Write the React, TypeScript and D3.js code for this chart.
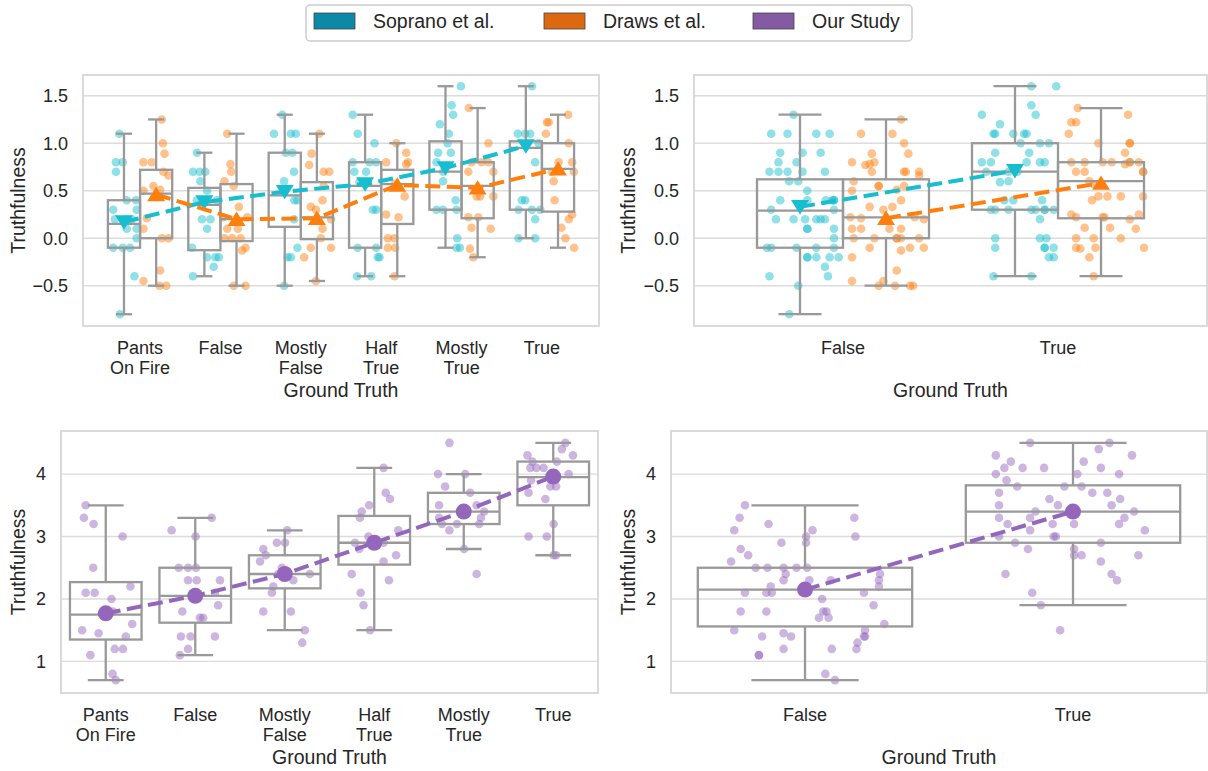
import * as d3 from 'd3';

const FINE_CATS = [['Pants', 'On Fire'], ['False'], ['Mostly', 'False'], ['Half', 'True'], ['Mostly', 'True'], ['True']];
const BINARY_CATS = [['False'], ['True']];
const TOP_TICKS = [-0.5, 0, 0.5, 1.0, 1.5];
const BOTTOM_TICKS = [1, 2, 3, 4];
const LEGEND = ['Soprano et al.', 'Draws et al.', 'Our Study'];

// ratings per category: [value, jitter] (jitter = share of half box width)
const sopranoPts = [
  [[1.1, -0.29], [0.8, -0.5], [0.8, -0.08], [0.7, -0.5], [0.3, -0.67], [0.4, 0.17], [0.4, 0.75], [0.2, 0.12], [0.2, 0.48], [0.1, 0.17], [0.1, 0.79], [0.3, 0.79], [-0.1, -0.67], [-0.1, -0.08], [-0.1, 0.38], [0.0, 0.79], [-0.4, 0.65], [-0.8, -0.25], [0.2, -0.56]],
  [[0.9, -0.46], [0.7, -0.71], [0.7, -0.29], [0.7, 0.06], [0.6, -0.25], [0.5, 0.17], [0.4, -0.46], [0.2, -0.15], [0.2, 0.38], [0.1, 0.17], [-0.1, -0.77], [-0.2, 0.17], [-0.2, 0.69], [-0.2, 0.9], [-0.3, 0.58], [-0.4, -0.71], [0.4, 0.79]],
  [[1.3, -0.15], [1.1, -0.67], [1.1, 0.38], [1.1, 0.69], [0.9, 0.06], [0.9, 0.48], [0.7, 0.58], [0.6, -0.04], [0.4, 0.79], [0.2, 0.58], [-0.2, 0.17], [-0.1, 0.79], [-0.5, -0.04], [0.4, 0.6], [-0.2, 0.38]],
  [[1.3, -0.77], [1.1, -0.46], [1.0, 0.58], [0.8, -0.77], [0.8, 0.27], [0.8, 0.69], [0.7, -0.67], [0.7, 0.06], [0.59, -0.35], [0.3, 0.69], [0.3, 0.48], [-0.1, -0.46], [-0.1, 0.69], [-0.2, 0.79], [-0.2, 0.9], [-0.4, -0.5], [-0.4, 0.38]],
  [[1.6, 0.96], [1.4, 0.38], [1.3, 0.48], [1.2, -0.35], [1.1, 0.21], [1.0, 0.13], [0.9, -0.46], [0.9, 0.33], [0.8, -0.56], [0.7, -0.15], [0.6, -0.15], [0.4, 0.63], [0.3, -0.56], [0.3, 0.69], [0.3, -0.15], [0.0, 0.73], [-0.1, 0.69], [-0.1, 0.9]],
  [[1.6, 0.38], [1.1, -0.5], [1.1, -0.04], [1.1, 0.27], [1.0, 0.79], [0.8, 0.58], [0.4, -0.25], [0.4, -0.04], [0.3, -0.46], [0.3, 0.38], [0.3, 0.9], [0.2, 0.58], [0.0, -0.46], [0.0, 0.58]],
];
const drawsPts = [
  [[1.25, 0.35], [1.0, 0.42], [0.89, 0.52], [0.8, -0.79], [0.8, -0.27], [0.7, 0.46], [0.66, 0.77], [0.5, -0.79], [0.55, -0.17], [0.51, 0.25], [0.21, -0.58], [0.1, -0.79], [0.0, 0.35], [0.0, 0.77], [-0.34, 0.25], [-0.45, -0.79], [-0.5, 0.21], [-0.5, 0.63]],
  [[1.1, -0.58], [0.78, -0.38], [0.7, -0.33], [0.6, -0.75], [0.55, -0.17], [0.33, 0.15], [0.22, -0.83], [0.22, 0.67], [0.1, -0.58], [0.1, 0.08], [0.0, -0.75], [0.0, -0.27], [0.0, 0.25], [-0.1, 0.56], [-0.13, 0.35], [-0.5, -0.17], [-0.5, 0.56]],
  [[1.1, 0.15], [0.89, -0.33], [0.77, -0.48], [0.7, 0.42], [0.7, 0.77], [0.55, 0.42], [0.4, 0.35], [0.3, -0.06], [0.33, -0.38], [0.2, 0.88], [0.1, 0.35], [0.0, 0.25], [-0.1, 0.88], [-0.1, -0.38], [-0.2, -0.79], [-0.45, -0.06]],
  [[1.0, -0.06], [0.9, 0.56], [0.8, 0.67], [0.8, -0.69], [0.78, 0.56], [0.57, -0.17], [0.44, 0.46], [0.25, -0.69], [0.22, 0.08], [0.0, -0.58], [0.0, -0.17], [-0.1, -0.58], [-0.1, -0.13], [-0.4, -0.17]],
  [[1.37, -0.54], [1.0, 0.67], [0.8, -0.38], [0.8, 0.25], [0.8, 0.67], [0.7, 0.98], [0.7, -0.58], [0.44, 0.15], [0.44, -0.06], [0.44, 0.98], [0.22, -0.58], [0.22, 0.04], [0.11, -0.38], [0.1, 0.81], [-0.11, -0.48], [-0.2, -0.27]],
  [[1.3, 0.63], [1.22, -0.69], [1.22, -0.58], [1.1, -0.75], [1.0, 0.67], [0.8, 0.04], [0.8, 0.88], [0.7, -0.38], [0.7, 0.98], [0.6, -0.27], [0.4, -0.21], [0.25, 0.88], [0.2, 0.67], [0.11, 0.21], [0.0, 0.46], [-0.1, 1.0]],
];
const oursPts = [
  [[3.5, -0.56], [3.3, -0.61], [3.2, -0.34], [3.0, 0.47], [2.5, -0.35], [2.2, 0.69], [2.1, -0.56], [2.1, -0.31], [2.0, 0.16], [1.8, 0.2], [1.6, 0.74], [1.5, -0.66], [1.45, -0.2], [1.4, 0.56], [1.2, 0.25], [1.2, 0.48], [1.1, -0.43], [0.8, 0.19], [0.7, 0.28]],
  [[3.1, -0.66], [3.3, 0.46], [3.0, 0.01], [2.5, -0.46], [2.5, -0.2], [2.5, 0.02], [2.3, -0.2], [2.3, 0.04], [2.3, 0.69], [2.1, 0.55], [1.9, 0.64], [1.8, -0.36], [1.7, 0.13], [1.7, 0.22], [1.4, -0.4], [1.4, -0.13], [1.4, 0.55], [1.2, -0.2], [1.1, -0.43]],
  [[3.1, 0.07], [2.9, -0.22], [2.9, 0.01], [2.8, -0.6], [2.7, -0.53], [2.6, -0.69], [2.5, -0.08], [2.4, -0.18], [2.3, 0.24], [2.2, -0.32], [2.1, -0.36], [1.8, -0.6], [1.8, 0.17], [2.4, 0.7], [1.5, 0.56], [1.3, 0.49]],
  [[4.1, 0.26], [3.7, 0.32], [3.6, 0.44], [3.5, -0.14], [3.4, -0.35], [3.3, -0.4], [3.1, 0.67], [3.0, -0.16], [2.9, -0.54], [2.8, -0.42], [2.9, 0.26], [2.7, 0.61], [2.6, 0.26], [2.4, -0.63], [2.3, 0.41], [2.1, -0.38], [1.9, -0.3], [1.5, -0.12]],
  [[4.5, -0.4], [4.0, -0.72], [4.0, 0.04], [3.8, -0.52], [3.7, 0.18], [3.5, -0.69], [3.5, 0.36], [3.4, -0.01], [3.4, 0.57], [3.3, -0.69], [3.3, 0.48], [3.2, -0.61], [3.2, -0.19], [3.2, 0.43], [3.1, -0.4], [2.8, 0.01], [2.4, 0.36]],
  [[4.5, 0.34], [4.4, 0.24], [4.3, 0.55], [4.3, -0.72], [4.2, -0.58], [4.2, 0.1], [4.1, -0.64], [4.1, -0.47], [4.1, -0.27], [4.0, 0.43], [3.9, -0.62], [3.8, -0.08], [3.8, 0.08], [3.7, -0.69], [3.6, -0.22], [3.2, 0.01], [3.0, -0.69], [3.0, -0.18], [2.7, 0.01], [2.7, 0.08]],
];

// box stats: [whisker low, q1, median, q3, whisker high]
const sopranoBox = [[-0.8, -0.1, 0.15, 0.4, 1.1], [-0.4, -0.126, 0.35, 0.53, 0.9], [-0.5, 0.12, 0.45, 0.9, 1.3], [-0.4, -0.1, 0.55, 0.8, 1.3], [-0.1, 0.3, 0.7, 1.02, 1.6], [0.0, 0.3, 0.95, 1.02, 1.6]];
const drawsBox = [[-0.5, 0.0, 0.47, 0.72, 1.25], [-0.5, -0.03, 0.2, 0.57, 1.1], [-0.45, -0.01, 0.22, 0.59, 1.1], [-0.4, 0.15, 0.57, 0.72, 1.0], [-0.2, 0.21, 0.55, 0.8, 1.37], [-0.1, 0.28, 0.73, 1.0, 1.3]];
const oursBox = [[0.7, 1.35, 1.75, 2.27, 3.5], [1.1, 1.62, 2.05, 2.5, 3.3], [1.5, 2.17, 2.4, 2.7, 3.1], [1.5, 2.55, 2.9, 3.33, 4.1], [2.8, 3.2, 3.4, 3.7, 4.0], [2.7, 3.5, 3.95, 4.2, 4.5]];
const sopranoBinBox = [[-0.8, -0.1, 0.29, 0.62, 1.3], [-0.4, 0.3, 0.7, 1.0, 1.6]];
const drawsBinBox = [[-0.5, 0.0, 0.22, 0.62, 1.25], [-0.4, 0.21, 0.6, 0.8, 1.37]];
const oursBinBox = [[0.7, 1.56, 2.15, 2.5, 3.5], [1.9, 2.9, 3.4, 3.82, 4.5]];

const sopranoMeans = [0.17, 0.38, 0.49, 0.57, 0.74, 0.97];
const drawsMeans = [0.46, 0.2, 0.21, 0.56, 0.53, 0.73];
const oursMeans = [1.77, 2.05, 2.4, 2.9, 3.4, 3.96];
const sopranoBinMeans = [0.33, 0.71];
const drawsBinMeans = [0.21, 0.58];
const oursBinMeans = [2.15, 3.4];

// the binary panels pool the six-way labels: first three are False, last three True
const pool = (groups) => [groups.slice(0, 3).flat(), groups.slice(3).flat()];

const FONT = '"Liberation Sans", Arial, sans-serif';
const TEXT = '#262626';
const BOX_GRAY = '#999999';

const COLORS = {
  soprano: { pt: '#17becf', patch: '#0b89a7' },
  draws: { pt: '#ff7f0e', patch: '#dc680f' },
  ours: { pt: '#9467bd', patch: '#845ba2' },
};

const tri = (cx, cy, s, up) =>
  up
    ? `M${cx},${cy - s * 0.85}L${cx + s},${cy + s * 0.75}L${cx - s},${cy + s * 0.75}Z`
    : `M${cx},${cy + s * 0.85}L${cx + s},${cy - s * 0.75}L${cx - s},${cy - s * 0.75}Z`;

function Panel({ frame, xPad, yDomain, ticks, fmt, cats, series, boxW, labelOffset }) {
  const x = d3.scaleLinear().domain([-0.5 - xPad, cats.length - 0.5 + xPad]).range([frame.l, frame.r]);
  const y = d3.scaleLinear().domain(yDomain).range([frame.b, frame.t]);
  const unit = x(1) - x(0);
  const half = (boxW * unit) / 2;
  const f = d3.format(fmt);
  const line = d3.line();

  return (
    <g>
      {ticks.map((t) => (
        <g key={t}>
          <line x1={frame.l} x2={frame.r} y1={y(t)} y2={y(t)} stroke="#dcdcdc" strokeWidth={1.4} />
          <text x={frame.l - 15} y={y(t)} dy="0.35em" textAnchor="end" fontSize={18} fill={TEXT}>{f(t)}</text>
        </g>
      ))}
      <rect x={frame.l} y={frame.t} width={frame.r - frame.l} height={frame.b - frame.t} fill="none" stroke="#d6d6d6" strokeWidth={1.8} />
      {cats.map((lines, i) => (
        <text key={i} x={x(i)} y={frame.b + 28} textAnchor="middle" fontSize={18} fill={TEXT}>
          {lines.map((s, k) => (
            <tspan key={k} x={x(i)} dy={k === 0 ? 0 : 19.5}>{s}</tspan>
          ))}
        </text>
      ))}
      <text x={(frame.l + frame.r) / 2} y={frame.b + 71} textAnchor="middle" fontSize={19.5} fill={TEXT}>Ground Truth</text>
      <text transform={`translate(${frame.l - labelOffset},${(frame.t + frame.b) / 2}) rotate(-90)`} dy="0.35em" textAnchor="middle" fontSize={19.5} fill={TEXT}>Truthfulness</text>

      {series.map((s, si) => (
        <g key={'p' + si}>
          {s.groups.map((g, i) =>
            g.map(([v, j], k) => (
              <circle key={i + '-' + k} cx={x(i + s.offset) + j * half} cy={y(v)} r={4.3} fill={s.color} fillOpacity={0.48} />
            ))
          )}
        </g>
      ))}

      {series.map((s, si) => (
        <g key={'b' + si} fill="none" stroke={BOX_GRAY} strokeWidth={2.3}>
          {s.box.map(([lo, q1, md, q3, hi], i) => {
            const cx = x(i + s.offset);
            return (
              <g key={i}>
                <rect x={cx - half} y={y(q3)} width={2 * half} height={y(q1) - y(q3)} />
                <line x1={cx - half} x2={cx + half} y1={y(md)} y2={y(md)} />
                <line x1={cx} x2={cx} y1={y(q1)} y2={y(lo)} />
                <line x1={cx} x2={cx} y1={y(q3)} y2={y(hi)} />
                <line x1={cx - half / 2} x2={cx + half / 2} y1={y(lo)} y2={y(lo)} />
                <line x1={cx - half / 2} x2={cx + half / 2} y1={y(hi)} y2={y(hi)} />
              </g>
            );
          })}
        </g>
      ))}

      {series.map((s, si) => (
        <g key={'m' + si}>
          <path d={line(s.means.map((m, i) => [x(i + s.offset), y(m)]))} fill="none" stroke={s.color} strokeWidth={4} strokeDasharray="15,6.5" />
          {s.means.map((m, i) =>
            s.marker === 'circle' ? (
              <circle key={i} cx={x(i + s.offset)} cy={y(m)} r={8} fill={s.color} />
            ) : (
              <path key={i} d={tri(x(i + s.offset), y(m), 9, s.marker === 'up')} fill={s.color} />
            )
          )}
        </g>
      ))}
    </g>
  );
}

export default function App() {
  const TOP_Y = [-0.924, 1.718];
  const BOT_Y = [0.494, 4.69];
  const legendX = [314, 544, 753];
  const legendColors = [COLORS.soprano.patch, COLORS.draws.patch, COLORS.ours.patch];
  return (
    <svg width={1208} height={771} style={{ position: 'absolute', left: 0, top: 0, background: '#fff' }} fontFamily={FONT}>
      <rect x={306} y={5} width={606} height={36} rx={4} fill="#fff" stroke="#cccccc" strokeWidth={1.5} />
      {LEGEND.map((name, i) => (
        <g key={name}>
          <rect x={legendX[i]} y={13} width={41} height={16} fill={legendColors[i]} stroke="#444" strokeWidth={0.8} />
          <text x={legendX[i] + 59} y={21} dy="0.35em" fontSize={19.5} fill={TEXT}>{name}</text>
        </g>
      ))}

      <Panel
        frame={{ l: 83, r: 599, t: 75, b: 326 }}
        xPad={0.21}
        yDomain={TOP_Y}
        ticks={TOP_TICKS}
        fmt=".1f"
        cats={FINE_CATS}
        boxW={0.4}
        labelOffset={65}
        series={[
          { color: COLORS.soprano.pt, marker: 'down', offset: -0.2, groups: sopranoPts, box: sopranoBox, means: sopranoMeans },
          { color: COLORS.draws.pt, marker: 'up', offset: 0.2, groups: drawsPts, box: drawsBox, means: drawsMeans },
        ]}
      />
      <Panel
        frame={{ l: 694, r: 1207, t: 75, b: 326 }}
        xPad={0.193}
        yDomain={TOP_Y}
        ticks={TOP_TICKS}
        fmt=".1f"
        cats={BINARY_CATS}
        boxW={0.4}
        labelOffset={66}
        series={[
          { color: COLORS.soprano.pt, marker: 'down', offset: -0.2, groups: pool(sopranoPts), box: sopranoBinBox, means: sopranoBinMeans },
          { color: COLORS.draws.pt, marker: 'up', offset: 0.2, groups: pool(drawsPts), box: drawsBinBox, means: drawsBinMeans },
        ]}
      />
      <Panel
        frame={{ l: 61, r: 598, t: 431, b: 693 }}
        xPad={0}
        yDomain={BOT_Y}
        ticks={BOTTOM_TICKS}
        fmt="d"
        cats={FINE_CATS}
        boxW={0.8}
        labelOffset={43}
        series={[{ color: COLORS.ours.pt, marker: 'circle', offset: 0, groups: oursPts, box: oursBox, means: oursMeans }]}
      />
      <Panel
        frame={{ l: 671, r: 1207, t: 431, b: 693 }}
        xPad={0}
        yDomain={BOT_Y}
        ticks={BOTTOM_TICKS}
        fmt="d"
        cats={BINARY_CATS}
        boxW={0.8}
        labelOffset={43}
        series={[{ color: COLORS.ours.pt, marker: 'circle', offset: 0, groups: pool(oursPts), box: oursBinBox, means: oursBinMeans }]}
      />
    </svg>
  );
}
